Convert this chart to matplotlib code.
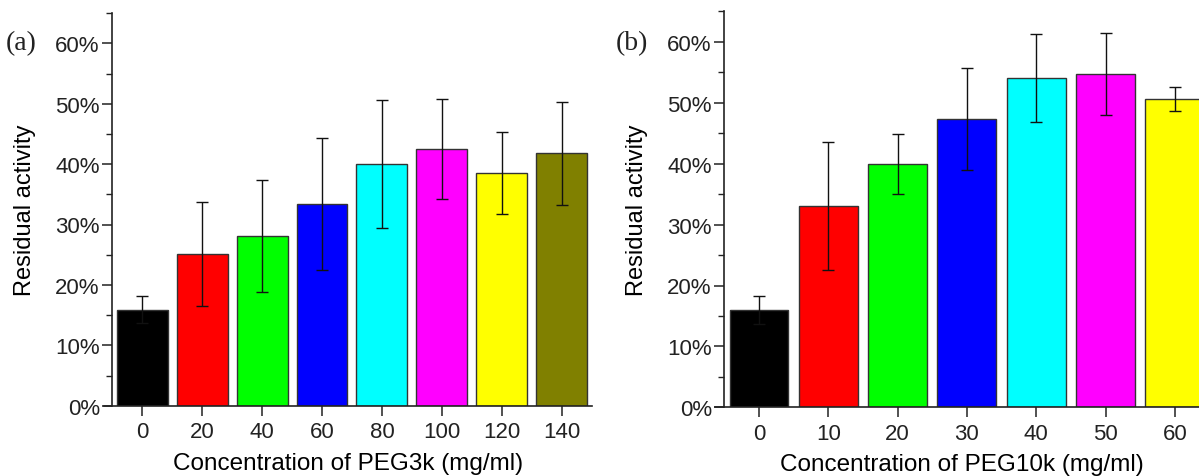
import matplotlib
matplotlib.use('Agg')
import matplotlib.pyplot as plt
from matplotlib.ticker import FuncFormatter, MultipleLocator
import numpy as np

# PEG3k series
peg3k_conc = ['0', '20', '40', '60', '80', '100', '120', '140']
peg3k_activity = [15.9, 25.1, 28.1, 33.4, 40.0, 42.5, 38.5, 41.8]
peg3k_err = [2.2, 8.6, 9.2, 10.9, 10.6, 8.2, 6.8, 8.5]

# PEG10k series
peg10k_conc = ['0', '10', '20', '30', '40', '50', '60']
peg10k_activity = [15.9, 33.0, 40.0, 47.3, 54.1, 54.7, 50.6]
peg10k_err = [2.3, 10.5, 4.9, 8.4, 7.25, 6.75, 1.95]

bar_colors = ['#000000', '#ff0000', '#00ff00', '#0000ff',
              '#00ffff', '#ff00ff', '#ffff00', '#808000']

plt.rcParams['font.family'] = ['Liberation Sans', 'DejaVu Sans']
plt.rcParams['text.color'] = '#222222'
plt.rcParams['xtick.color'] = '#222222'
plt.rcParams['ytick.color'] = '#222222'

W, H = 1199, 477
fig = plt.figure(figsize=(W / 100, H / 100), dpi=100)


def px_axes(left, right, bottom, top):
    return fig.add_axes([left / W, 1 - bottom / H, (right - left) / W, (bottom - top) / H])


def bar_panel(ax, cats, vals, errs, xlabel, tag, tag_x):
    x = np.arange(len(cats))
    ax.bar(x, vals, width=0.85, color=bar_colors[:len(cats)], edgecolor='#333333', linewidth=1.0,
           yerr=errs, error_kw=dict(ecolor='#111111', elinewidth=1.0, capsize=4, capthick=1.0))
    ax.set_xlim(-0.64, len(cats) - 0.5)
    ax.set_ylim(0, 65)
    ax.spines['left'].set_position(('data', -0.5))
    ax.spines['right'].set_visible(False)
    ax.spines['top'].set_visible(False)
    for s in ('left', 'bottom'):
        ax.spines[s].set_linewidth(1.2)
        ax.spines[s].set_color('#222222')
    ax.set_xticks(x)
    ax.set_xticklabels(cats)
    ax.yaxis.set_major_locator(MultipleLocator(10))
    ax.yaxis.set_minor_locator(MultipleLocator(5))
    ax.yaxis.set_major_formatter(FuncFormatter(lambda v, p: '%d%%' % v))
    ax.tick_params(axis='both', which='major', labelsize=16, length=7, width=1.1)
    ax.tick_params(axis='y', which='minor', length=4, width=1.0)
    ax.tick_params(axis='y', pad=2)
    ax.tick_params(axis='x', pad=4)
    ax.set_xlabel(xlabel, fontsize=17.5, labelpad=7)
    ax.set_ylabel('Residual activity', fontsize=17, labelpad=14)
    fig.text(tag_x / W, 1 - 44 / H, tag, family='Liberation Serif', fontsize=20,
             va='center', ha='left', color='#222222')


# left panel: x 0..140 ticks at 142 -> 562 px, baseline 407 px
step_a = 59.9
ax1 = px_axes(142.3 - 0.64 * step_a, 142.3 + 7.5 * step_a, 406.7, 406.7 - 6.5 * 60.4)
bar_panel(ax1, peg3k_conc, peg3k_activity, peg3k_err,
          'Concentration of PEG3k (mg/ml)', '(a)', 6)

# right panel runs past the figure edge
step_b = 69.3
ax2 = px_axes(759 - 0.64 * step_b, 759 + 6.5 * step_b, 408.3, 408.3 - 6.5 * 60.9)
bar_panel(ax2, peg10k_conc, peg10k_activity, peg10k_err,
          'Concentration of PEG10k (mg/ml)', '(b)', 616)

fig.savefig('out.png', dpi=100)
